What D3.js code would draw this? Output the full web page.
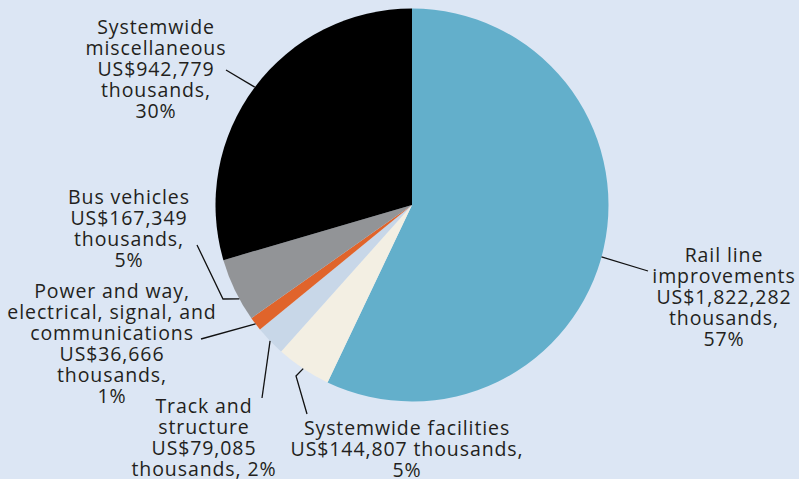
<!DOCTYPE html>
<html>
<head>
<meta charset="utf-8">
<script src="https://cdn.jsdelivr.net/npm/d3@7/dist/d3.min.js"></script>
<style>
  html, body { margin: 0; padding: 0; background: #dce6f4; }
  svg { display: block; }
  text { font-family: "Open Sans", sans-serif; fill: #231f20; }
</style>
</head>
<body>
<svg id="chart" width="799" height="479"></svg>
<script>
// Capital spending by category, US$ thousands
const categories = [
  "Rail line improvements",
  "Systemwide facilities",
  "Track and structure",
  "Power and way, electrical, signal, and communications",
  "Bus vehicles",
  "Systemwide miscellaneous"
];
const amounts = [1822282, 144807, 79085, 36666, 167349, 942779];
const percents = [57, 5, 2, 1, 5, 30];
const colors = ["#63afcb", "#f3efe3", "#c8d7e8", "#e0642b", "#929497", "#000000"];

// Label text lines per category
const labelLines = [
  ["Rail line", "improvements", "US$1,822,282", "thousands,", "57%"],
  ["Systemwide facilities", "US$144,807 thousands,", "5%"],
  ["Track and", "structure", "US$79,085", "thousands, 2%"],
  ["Power and way,", "electrical, signal, and", "communications", "US$36,666", "thousands,", "1%"],
  ["Bus vehicles", "US$167,349", "thousands,", "5%"],
  ["Systemwide", "miscellaneous", "US$942,779", "thousands,", "30%"]
];

// Label placement: text centre x, first baseline y, leader path after the slice point,
// and a small angular shift (degrees) for where the leader meets the rim.
const labelLayout = [
  { x: 724, y: 262, path: [[648, 271]], shift: 2.6 },
  { x: 407, y: 435, path: [[296, 376], [307, 414]], shift: 0 },
  { x: 204, y: 413, path: [[262, 398]], shift: 0 },
  { x: 112, y: 298, path: [[201, 339]], shift: 0 },
  { x: 129, y: 204, path: [[223, 299], [197, 245]], shift: -2.8 },
  { x: 156, y: 34, path: [[226, 70]], shift: 0 }
];

const lineHeight = 21;
const cx = 412, cy = 205, radius = 196.5;

const svg = d3.select("#chart");
const data = categories.map((c, i) => ({ category: c, value: amounts[i], i }));

const pie = d3.pie().value(d => d.value).sort(null);
const arcs = pie(data);
const arc = d3.arc().innerRadius(0).outerRadius(radius);

const g = svg.append("g").attr("transform", `translate(${cx},${cy})`);
g.selectAll("path.slice")
  .data(arcs)
  .join("path")
  .attr("class", "slice")
  .attr("d", arc)
  .attr("fill", d => colors[d.data.i]);

// Leader lines from the rim to each label
const rimPoint = (angle) => [cx + radius * Math.sin(angle), cy - radius * Math.cos(angle)];
const line = d3.line();
svg.selectAll("path.leader")
  .data(arcs)
  .join("path")
  .attr("class", "leader")
  .attr("fill", "none")
  .attr("stroke", "#111")
  .attr("stroke-width", 1.3)
  .attr("d", d => {
    const lay = labelLayout[d.data.i];
    const mid = (d.startAngle + d.endAngle) / 2 + lay.shift * Math.PI / 180;
    return line([rimPoint(mid), ...lay.path]);
  });

// Multi-line labels
const labels = svg.selectAll("text.label")
  .data(arcs)
  .join("text")
  .attr("class", "label")
  .attr("text-anchor", "middle")
  .attr("font-size", 19.5)
  .attr("letter-spacing", 0.9)
  .attr("x", d => labelLayout[d.data.i].x)
  .attr("y", d => labelLayout[d.data.i].y);

labels.selectAll("tspan")
  .data(d => labelLines[d.data.i].map((t, k) => ({ t, k, x: labelLayout[d.data.i].x })))
  .join("tspan")
  .attr("x", d => d.x)
  .attr("dy", d => d.k === 0 ? 0 : lineHeight)
  .text(d => d.t);
</script>
</body>
</html>
